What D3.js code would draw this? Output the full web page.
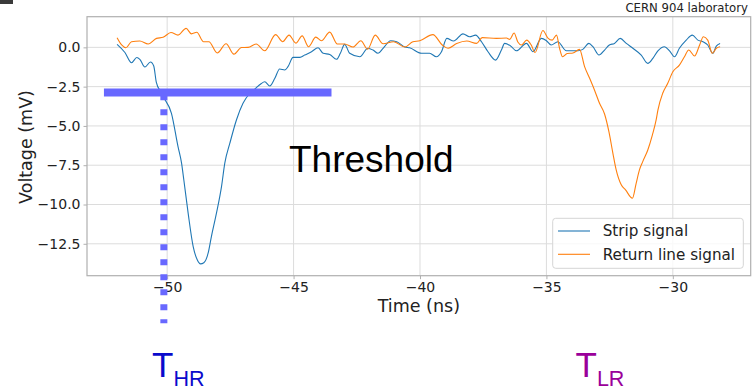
<!DOCTYPE html>
<html>
<head>
<meta charset="utf-8">
<script src="https://cdn.jsdelivr.net/npm/d3@7"></script>
<style>
  html, body { margin: 0; padding: 0; background: #fff; }
  svg { display: block; }
</style>
</head>
<body>
<svg id="chart" width="754" height="390"></svg>
<script>
// Strip signal (blue) — time in ns, voltage in mV
const stripTime = [-51.98,-51.67,-51.41,-51.20,-51.08,-50.88,-50.66,-50.53,-50.43,-50.25,-50.15,-49.83,-49.57,-49.43,-49.34,-49.17,-48.97,-48.81,-48.68,-48.55,-48.38,-48.25,-48.05,-47.85,-47.72,-47.52,-47.26,-47.00,-46.73,-46.49,-46.30,-46.14,-45.94,-45.74,-45.55,-45.35,-45.22,-45.02,-44.75,-44.56,-44.29,-44.03,-43.83,-43.57,-43.30,-43.15,-42.98,-42.78,-42.38,-42.06,-41.86,-41.66,-41.46,-41.16,-40.92,-40.60,-40.41,-39.94,-39.62,-39.35,-39.15,-38.94,-38.67,-38.30,-38.04,-37.80,-37.56,-37.31,-37.01,-36.78,-36.65,-36.41,-36.19,-35.79,-35.53,-35.20,-35.00,-34.81,-34.55,-34.21,-33.75,-33.56,-33.32,-33.16,-32.92,-32.70,-32.51,-32.31,-32.08,-31.84,-31.58,-31.25,-30.99,-30.79,-30.59,-30.33,-30.13,-29.93,-29.74,-29.47,-29.23,-29.01,-28.81,-28.62,-28.42,-28.28,-28.13];
const stripVolt = [0.19,-0.33,-0.98,-0.65,-0.76,-1.25,-0.93,-1.19,-2.21,-2.84,-3.16,-4.20,-6.32,-7.37,-8.44,-10.55,-12.68,-13.52,-13.78,-13.71,-13.10,-12.04,-10.55,-8.86,-7.37,-6.10,-4.62,-3.56,-2.92,-2.59,-2.33,-2.19,-2.46,-1.97,-1.38,-1.44,-1.23,-0.64,-0.64,-0.49,-0.28,-0.03,-0.38,-0.45,-0.76,-0.38,0.19,-0.38,-0.60,-0.06,-0.17,-0.38,-0.06,0.42,0.36,0.02,-0.03,-0.38,-0.38,-0.60,-0.28,0.57,0.40,0.86,0.67,0.78,0.34,-0.28,-0.81,-0.17,0.25,0.08,-0.22,0.25,-0.28,0.57,0.42,0.15,0.36,-0.22,-0.22,-0.13,0.25,0.04,-0.49,-0.17,0.15,0.25,0.57,0.25,-0.06,-0.49,-1.02,-0.70,-0.22,0.04,-0.22,-0.60,-0.06,0.46,0.78,0.46,0.36,0.15,-0.38,0.08,0.25];

// Return line signal (orange) — time in ns, voltage in mV
const returnTime = [-51.98,-51.80,-51.63,-51.41,-51.08,-50.75,-50.42,-50.16,-49.85,-49.57,-49.25,-49.04,-48.83,-48.56,-48.35,-48.02,-47.67,-47.36,-47.06,-46.80,-46.48,-46.14,-45.71,-45.43,-45.18,-44.91,-44.66,-44.41,-44.12,-43.90,-43.57,-43.27,-42.98,-42.65,-42.34,-42.07,-41.77,-41.46,-41.04,-40.60,-40.28,-40.01,-39.49,-39.12,-38.89,-38.55,-38.15,-37.76,-37.54,-36.98,-36.58,-36.45,-36.28,-36.13,-35.99,-35.78,-35.60,-35.45,-35.14,-34.94,-34.77,-34.60,-34.48,-34.36,-34.18,-33.95,-33.69,-33.49,-33.29,-33.10,-32.90,-32.70,-32.53,-32.37,-32.24,-32.04,-31.87,-31.60,-31.45,-31.32,-31.19,-30.99,-30.81,-30.66,-30.59,-30.40,-30.20,-30.00,-29.74,-29.54,-29.37,-29.14,-28.94,-28.79,-28.62,-28.44,-28.28,-28.13];
const returnVolt = [0.61,0.15,-0.03,0.36,0.40,0.21,0.57,0.64,0.94,0.78,1.21,0.86,0.96,0.36,0.36,-0.36,0.23,-0.43,-0.01,0.00,0.21,-0.22,0.81,0.36,0.78,0.27,0.73,0.04,0.65,0.42,0.97,0.21,0.21,0.02,0.42,-0.11,0.78,0.23,0.36,0.02,0.36,0.42,0.81,0.15,-0.06,0.24,0.40,0.25,0.62,0.57,0.59,0.51,0.91,0.34,0.15,0.46,0.15,-0.33,1.07,0.59,0.46,0.78,-0.06,-0.60,-0.39,-0.36,-0.13,-1.23,-1.97,-2.71,-3.56,-4.24,-5.35,-6.74,-7.80,-8.75,-9.07,-9.60,-8.65,-7.80,-7.27,-6.53,-5.58,-4.62,-3.99,-2.92,-2.29,-1.55,-1.13,-0.60,-0.17,-0.55,0.15,0.67,0.46,-0.38,-0.06,0.04];

// Axis ticks and labels
const xTicks = [-50, -45, -40, -35, -30];
const yTicks = [0, -2.5, -5, -7.5, -10, -12.5];
const seriesNames = ["Strip signal", "Return line signal"];

// Threshold marker (mV) and the crossing time (ns)
const thresholdLevel = [-2.88];
const thresholdSpan = [-52.5, -43.5];
const crossingTime = [-50.13];
const crossingDrop = [-17.55];

const svg = d3.select("#chart");
const W = 754, H = 390;
const m = { left: 87, top: 16.7, right: 754 - 750.7, bottom: 390 - 275.7 };
const pw = W - m.left - m.right, ph = H - m.top - m.bottom;

const x = d3.scaleLinear().domain([-53.17, -26.92]).range([m.left, m.left + pw]);
const y = d3.scaleLinear().domain([-14.53, 1.95]).range([m.top + ph, m.top]);

const tickFont = "'DejaVu Sans', sans-serif";
const fmtY = v => (v < 0 ? "\u2212" : "") + Math.abs(v).toFixed(1);
const fmtX = v => (v < 0 ? "\u2212" : "") + Math.abs(v);

// small dark block in the corner
svg.append("rect").attr("x", 0).attr("y", 0).attr("width", 13).attr("height", 4).attr("fill", "#3a3a3a");

// grid
const grid = svg.append("g");
grid.selectAll(".gx").data(xTicks).enter().append("line")
  .attr("x1", d => x(d)).attr("x2", d => x(d))
  .attr("y1", m.top).attr("y2", m.top + ph)
  .attr("stroke", "#dcdcdc").attr("stroke-width", 1);
grid.selectAll(".gy").data(yTicks).enter().append("line")
  .attr("x1", m.left).attr("x2", m.left + pw)
  .attr("y1", d => y(d)).attr("y2", d => y(d))
  .attr("stroke", "#dcdcdc").attr("stroke-width", 1);

// axes
const xAxis = d3.axisBottom(x).tickValues(xTicks).tickFormat(fmtX).tickSize(3.5).tickPadding(3);
const yAxis = d3.axisLeft(y).tickValues(yTicks).tickFormat(fmtY).tickSize(3.5).tickPadding(3);

const gx = svg.append("g").attr("transform", `translate(0,${m.top + ph})`).call(xAxis);
const gy = svg.append("g").attr("transform", `translate(${m.left},0)`).call(yAxis);
[gx, gy].forEach(g => {
  g.select(".domain").remove();
  g.selectAll(".tick line").attr("stroke", "#b0b0b0");
  g.selectAll(".tick text").attr("fill", "#222").style("font-family", tickFont).style("font-size", "14px");
});

// frame
svg.append("rect").attr("x", m.left).attr("y", m.top).attr("width", pw).attr("height", ph)
  .attr("fill", "none").attr("stroke", "#b0b0b0").attr("stroke-width", 1.2);

// signal traces
const line = d3.line().x(d => x(d[0])).y(d => y(d[1])).curve(d3.curveMonotoneX);
const stripData = stripTime.map((t, i) => [t, stripVolt[i]]);
const returnData = returnTime.map((t, i) => [t, returnVolt[i]]);
const colors = ["#1f77b4", "#ff7f0e"];
svg.append("path").datum(stripData).attr("d", line)
  .attr("fill", "none").attr("stroke", colors[0]).attr("stroke-width", 1.1);
svg.append("path").datum(returnData).attr("d", line)
  .attr("fill", "none").attr("stroke", colors[1]).attr("stroke-width", 1.1);

// threshold bar and dotted crossing-time marker
const markColor = "#6868ff";
svg.append("line")
  .attr("x1", x(crossingTime[0])).attr("x2", x(crossingTime[0]))
  .attr("y1", y(thresholdLevel[0])).attr("y2", y(crossingDrop[0]))
  .attr("stroke", markColor).attr("stroke-width", 7)
  .attr("stroke-dasharray", "6,9").attr("stroke-dashoffset", -1.7);
svg.append("line")
  .attr("x1", x(thresholdSpan[0])).attr("x2", x(thresholdSpan[1]))
  .attr("y1", y(thresholdLevel[0])).attr("y2", y(thresholdLevel[0]))
  .attr("stroke", markColor).attr("stroke-width", 8);

// axis labels
svg.append("text").attr("x", m.left + pw / 2).attr("y", 311.5)
  .attr("text-anchor", "middle").style("font-family", tickFont).style("font-size", "17.5px")
  .attr("fill", "#222").text("Time (ns)");
svg.append("text").attr("transform", "translate(32,147) rotate(-90)")
  .attr("text-anchor", "middle").style("font-family", tickFont).style("font-size", "17.5px")
  .attr("fill", "#222").text("Voltage (mV)");

// title
svg.append("text").attr("x", 748).attr("y", 12).attr("text-anchor", "end")
  .style("font-family", tickFont).style("font-size", "11.7px").attr("fill", "#222")
  .text("CERN 904 laboratory");

// annotation
svg.append("text").attr("x", 289).attr("y", 171.5)
  .style("font-family", "'Liberation Sans', Arial, sans-serif").style("font-size", "37px")
  .attr("fill", "#000").text("Threshold");

// legend
const lg = svg.append("g");
lg.append("rect").attr("x", 552.7).attr("y", 218.3).attr("width", 190.6).attr("height", 50)
  .attr("rx", 3).attr("fill", "#fff").attr("fill-opacity", 0.8)
  .attr("stroke", "#d5d5d5").attr("stroke-width", 1);
seriesNames.forEach((name, i) => {
  const yy = 231 + i * 23.3;
  lg.append("line").attr("x1", 558).attr("x2", 590).attr("y1", yy).attr("y2", yy)
    .attr("stroke", colors[i]).attr("stroke-width", 1.1);
  lg.append("text").attr("x", 602.7).attr("y", yy + 5.4)
    .style("font-family", tickFont).style("font-size", "15.2px").attr("fill", "#222").text(name);
});

// time labels under the chart
const subFont = "'Liberation Sans', Arial, sans-serif";
function timeLabel(xPos, sub, color) {
  const t = svg.append("text").attr("x", xPos).attr("y", 376.7)
    .style("font-family", subFont).attr("fill", color);
  t.append("tspan").style("font-size", "35px").text("T");
  t.append("tspan").attr("dy", 9.3).style("font-size", "21.5px").text(sub);
}
timeLabel(152, "HR", "#0a0acc");
timeLabel(575.5, "LR", "#9a009a");
</script>
</body>
</html>
